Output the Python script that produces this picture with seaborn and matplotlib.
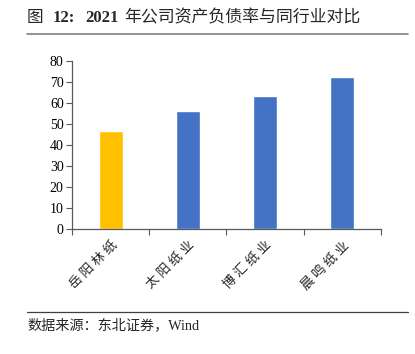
import matplotlib
matplotlib.use("Agg")
import matplotlib.pyplot as plt
import seaborn as sns
import pandas as pd
from matplotlib.ticker import FixedLocator

companies = ["岳阳林纸", "太阳纸业", "博汇纸业", "晨鸣纸业"]
debt_ratio = [46.5, 56.0, 63.5, 72.5]
bar_colors = ["#FFC000", "#4472C4", "#4472C4", "#4472C4"]
y_ticks = [0, 10, 20, 30, 40, 50, 60, 70, 80]

sns.set_theme(style="white")
plt.rcParams['font.family'] = ['Liberation Serif', 'Noto Sans CJK SC', 'DejaVu Sans']

df = pd.DataFrame({"company": companies, "ratio": debt_ratio})

fig = plt.figure(figsize=(4.15, 3.54), dpi=100)
ax = fig.add_axes([0.1735, 0.353, 0.7445, 0.4747])
sns.barplot(data=df, x="company", y="ratio", hue="company", palette=bar_colors,
            width=0.31, legend=False, ax=ax, saturation=1)

ax.set_xlim(-0.5, 3.5)
ax.set_ylim(0, 80)
ax.set_yticks(y_ticks)
ax.set_xlabel("")
ax.set_ylabel("")
for s in ["top", "right"]:
    ax.spines[s].set_visible(False)
for s in ["left", "bottom"]:
    ax.spines[s].set_color("#595959")
    ax.spines[s].set_linewidth(0.9)

ax.tick_params(axis="y", which="major", direction="out", length=4, width=0.8,
               color="#595959", labelsize=10, pad=2, left=True)
ax.tick_params(axis="x", which="major", length=0, pad=7)
ax.xaxis.set_minor_locator(FixedLocator([-0.5, 0.5, 1.5, 2.5, 3.5]))
ax.tick_params(axis="x", which="minor", direction="out", length=4, width=0.8,
               color="#595959", bottom=True)
ax.set_xticks(range(len(companies)))
ax.set_xticklabels([" ".join(c) for c in companies])
for lbl in ax.get_xticklabels():
    lbl.set_rotation(45)
    lbl.set_ha("right")
    lbl.set_rotation_mode("anchor")
    lbl.set_fontsize(9.5)
    lbl.set_family(['Noto Sans CJK SC'])
    lbl.set_fontweight("light")
for lbl in ax.get_yticklabels():
    lbl.set_color("black")

fam = ['Liberation Serif', 'Noto Sans CJK SC']
ty = 0.948
fig.text(0.065, ty, "图", fontsize=12, ha="left", va="center", family=fam)
fig.text(0.128, ty, "12:", fontsize=12, fontweight="bold", ha="left", va="center", family=fam)
fig.text(0.205, ty, "2021", fontsize=12, fontweight="bold", ha="left", va="center", family=fam)
fig.text(0.300, ty, "年公司资产负债率与同行业对比", fontsize=12.2, ha="left", va="center",
         family=fam)
fig.add_artist(plt.Line2D([0.065, 0.982], [0.905, 0.905], color="#7f7f7f", lw=1.2))
fig.add_artist(plt.Line2D([0.065, 0.982], [0.118, 0.118], color="#404040", lw=0.9))
fig.text(0.065, 0.082, "数据来源：东北证券，Wind", fontsize=10.2, ha="left", va="center",
         family=fam)

fig.savefig("out.png", dpi=100)
